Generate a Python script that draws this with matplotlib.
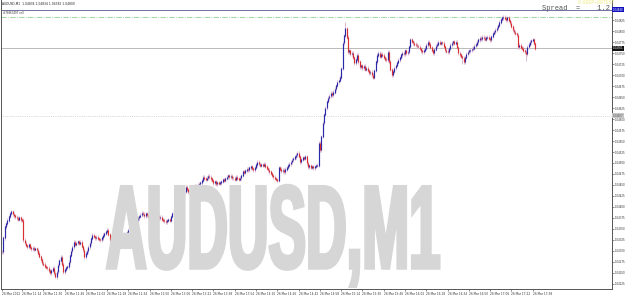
import matplotlib
matplotlib.use("Agg")
import matplotlib.pyplot as plt
from matplotlib.patheffects import AbstractPathEffect
from matplotlib.transforms import Affine2D, blended_transform_factory

# close prices, in points above 1.04000 (1 point = 0.00001), one per M1 bar
closes = [
    298, 330, 355, 362, 370, 378, 385, 389, 384, 380, 377, 375, 372, 376, 371, 370,
    325, 318, 312, 309, 314, 308, 305, 307, 303, 306, 302, 295, 288, 280, 273,
    270, 265, 262, 261, 255, 250, 256, 261, 250, 241, 252, 268, 278, 286, 270,
    252, 258, 262, 264, 275, 290, 300, 309, 320, 315, 318, 322, 317, 320, 310,
    302, 286, 295, 300, 309, 318, 328, 336, 333, 330, 332, 328, 326, 325, 330,
    336, 340, 344, 348, 338, 325, 315, 309, 312, 310, 314, 316, 318, 320, 322,
    325, 330, 336, 342, 348, 350, 352, 355, 360, 365, 370, 375, 378, 382, 386,
    384, 380, 385, 382, 379, 383, 380, 378, 382, 380, 376, 379, 375, 377, 372,
    370, 368, 366, 369, 372, 370, 378, 385, 393, 398, 402, 404, 408, 412, 416,
    425, 436, 445, 440, 434, 438, 442, 440, 445, 448, 446, 450, 452, 455, 460,
    468, 465, 462, 466, 470, 468, 464, 460, 455, 458, 452, 456, 453, 455, 458,
    462, 460, 465, 468, 472, 468, 470, 466, 466, 463, 468, 465, 462, 466, 472,
    480, 478, 483, 486, 484, 489, 492, 488, 484, 490, 496, 502, 498, 494, 497,
    495, 498, 492, 488, 484, 480, 476, 472, 468, 465, 463, 461, 489, 486, 482,
    484, 480, 486, 490, 495, 498, 502, 507, 510, 514, 518, 523, 515, 502, 508,
    512, 510, 514, 500, 491, 494, 490, 492, 489, 492, 494, 495, 545, 530, 560,
    591, 610, 625, 640, 648, 652, 659, 655, 661, 668, 676, 684, 688, 695, 715,
    773, 790, 805, 786, 752, 755, 748, 750, 740, 727, 735, 745, 730, 718, 722,
    716, 720, 712, 716, 710, 705, 707, 700, 695, 710, 730, 745, 750, 742, 748,
    745, 740, 736, 734, 752, 730, 712, 700, 708, 716, 722, 728, 734, 740, 746,
    750, 748, 755, 750, 752, 765, 780, 776, 773, 770, 768, 766, 764, 760, 755,
    752, 756, 761, 768, 775, 770, 762, 756, 750, 758, 766, 770, 775, 772, 774,
    773, 765, 757, 754, 752, 760, 768, 773, 776, 772, 775, 762, 750, 746, 742,
    739, 730, 740, 748, 752, 755, 757, 759, 761, 766, 770, 775, 780, 784, 782,
    786, 784, 781, 785, 786, 783, 780, 788, 795, 798, 802, 807, 812, 820, 826,
    830, 832, 828, 825, 830, 824, 818, 810, 802, 798, 794, 791, 764, 768, 762,
    761, 756, 752, 748, 764, 770, 775, 778, 780, 772, 761,
]
# bars whose wick goes well past the body
spike_highs = {258: 820, 377: 836}
spike_lows = {394: 732, 346: 726, 40: 238}

price_ticks = [1.04825 - 0.00025 * k for k in range(25)]
time_tick_bars = [0] + [15 + 16 * k for k in range(25)]
start_minute = 10 * 60 + 59

order_level = 1.04848   # blue line
tp_level = 1.04831      # green dash-dot
stop_level = 1.04607    # grey dotted
header = "AUDUSD,M1  1.04834 1.04834 1.04782 1.04800"


class StretchY(AbstractPathEffect):
    """stretch the glyphs vertically and thicken them a little"""
    def __init__(self, sy, lw):
        super().__init__()
        self.sy = sy
        self.lw = lw

    def draw_path(self, renderer, gc, tpath, affine, rgbFace=None):
        tr = Affine2D().scale(1, self.sy) + affine
        gc0 = renderer.new_gc()
        gc0.copy_properties(gc)
        gc0.set_linewidth(self.lw)
        gc0.set_foreground(rgbFace)
        gc0.set_joinstyle("miter")
        renderer.draw_path(gc0, tpath, tr, rgbFace)
        gc0.restore()


def px(v):
    return 1.04 + v / 1e5


fig = plt.figure(figsize=(6.25, 2.96), dpi=100)
fig.patch.set_facecolor("white")
ax = fig.add_axes([1 / 625, 7 / 296, 611 / 625, 289 / 296])
ax.set_facecolor("white")

# watermark
fig.text(106 / 625, (296 - 268) / 296, "AUDUSD,M1", family="Liberation Sans",
         weight="bold", fontsize=40.5, color="#d6d6d6", ha="left", va="baseline",
         path_effects=[StretchY(2.1, 2.5)], zorder=0)

n = len(closes)
opens = [closes[0]] + closes[:-1]
xs = list(range(n))
hi = [spike_highs.get(i, max(o, c) + 4) for i, (o, c) in enumerate(zip(opens, closes))]
lo = [spike_lows.get(i, min(o, c) - 4) for i, (o, c) in enumerate(zip(opens, closes))]

ax.vlines(xs, [px(v) for v in lo], [px(v) for v in hi], colors="#d8b0cc", lw=0.6, zorder=3)
up = [i for i in xs if closes[i] >= opens[i]]
dn = [i for i in xs if closes[i] < opens[i]]
ax.vlines(up, [px(opens[i] - 0.8) for i in up], [px(closes[i] + 0.8) for i in up],
          colors="#2a2aa8", lw=0.85, zorder=4)
ax.vlines(dn, [px(closes[i] - 0.8) for i in dn], [px(opens[i] + 0.8) for i in dn],
          colors="#d83030", lw=0.85, zorder=4)

last = px(closes[-1])
ax.axhline(order_level, color="#7070a0", lw=0.7, zorder=2)
ax.axhline(tp_level, color="#8fd08f", lw=0.6, ls="-.", zorder=2)
ax.axhline(last, color="#b0b0b0", lw=0.6, zorder=2)
ax.axhline(stop_level, color="#b8b8b8", lw=0.5, ls=":", zorder=2)

ax.set_xlim(-0.75, 458.6)
ax.set_ylim(px(213.6), px(870.5))

ax.yaxis.tick_right()
ax.set_yticks(price_ticks)
ax.set_yticklabels(["%.5f" % p for p in price_ticks])
ax.tick_params(axis="y", labelsize=1.9, length=1.2, width=0.4, pad=0.5, colors="#333333")

labels = []
for b in time_tick_bars:
    if b == 0:
        labels.append("26 Mar 2012")
    else:
        m = start_minute + b
        labels.append("26 Mar %d:%02d" % (m // 60, m % 60))
ax.set_xticks(time_tick_bars)
ax.set_xticklabels(labels, ha="left")
ax.tick_params(axis="x", labelsize=2.1, length=1.5, width=0.4, pad=0.6, colors="#333333")

for s in ["left", "bottom", "right"]:
    ax.spines[s].set_color("#555555")
    ax.spines[s].set_linewidth(0.7)
ax.spines["top"].set_visible(False)

tr = blended_transform_factory(ax.transAxes, ax.transData)
for lvl, fc, tc in [(order_level, "#1010c0", "white"), (last, "#111111", "white"),
                    (stop_level, "#c8c8c8", "#555555")]:
    ax.text(1.001, lvl, "%.5f" % lvl, transform=tr, fontsize=1.9, color=tc,
            ha="left", va="center", zorder=6,
            bbox=dict(boxstyle="square,pad=0.2", fc=fc, ec="none"))

ax.text(0.002, 0.985, header, transform=ax.transAxes, fontsize=2.2, color="#222222",
        ha="left", va="center")
ax.text(0.003, px(840), "#78963497 sell", transform=tr,
        fontsize=1.9, color="#333333", ha="left", va="center")
ax.text(577 / 611, 0.992, "0.00EP+00TEST", transform=ax.transAxes, fontsize=3.5,
        color="#eeee88", ha="left", va="center", family="Liberation Mono")
ax.text(541 / 611, 0.972, "Spread  =    1.2", transform=ax.transAxes, fontsize=5,
        color="#555555", ha="left", va="center", family="Liberation Mono", zorder=7)

fig.savefig("out.png", dpi=100)
